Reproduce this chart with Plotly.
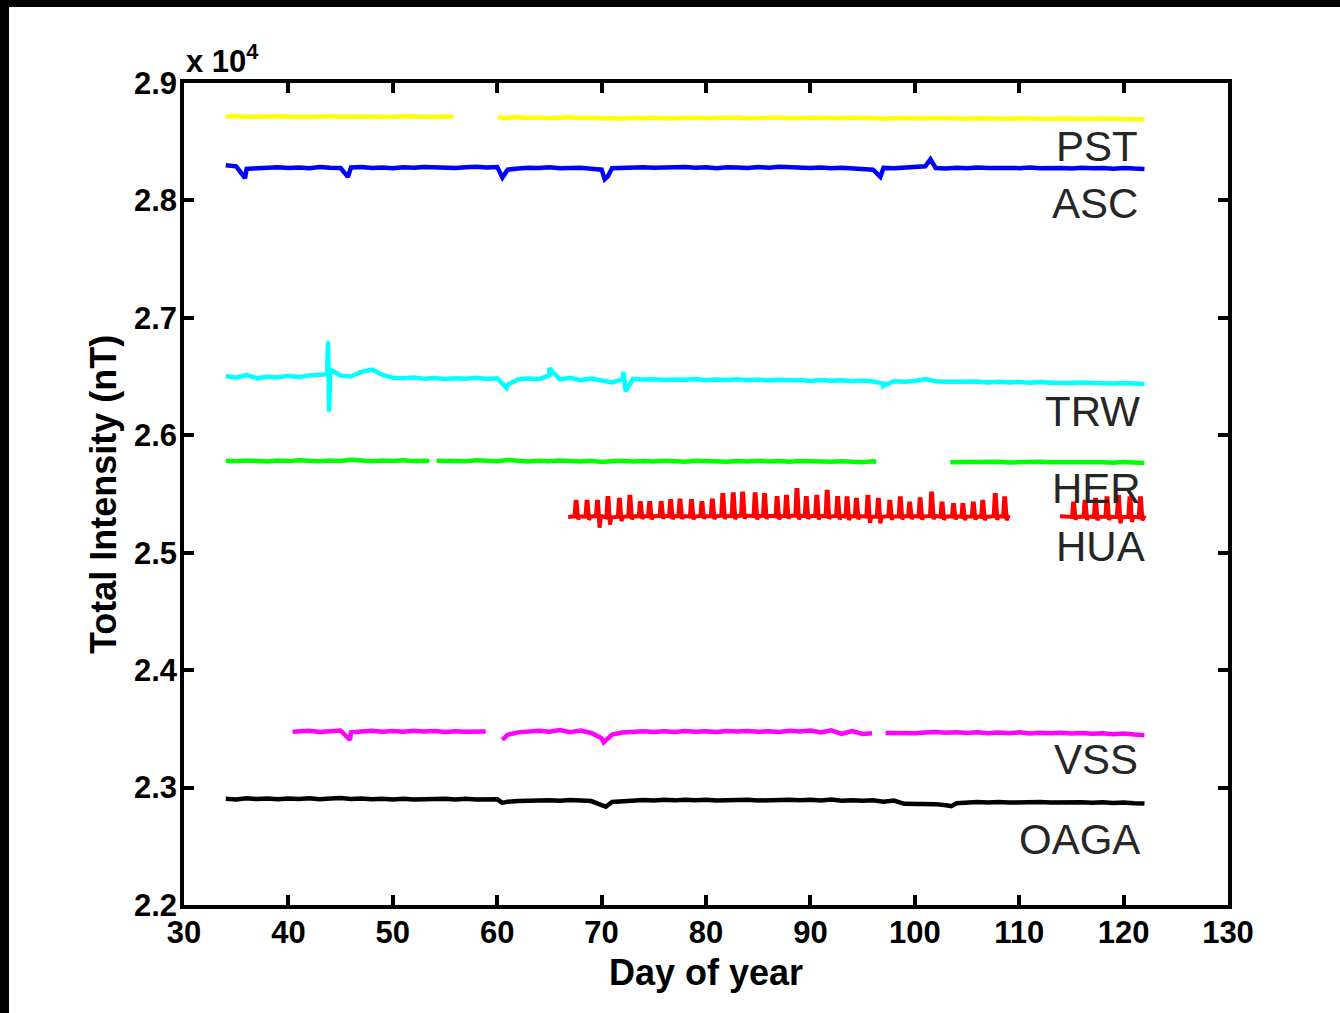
import plotly.graph_objects as go

# ---------------- data ----------------
DAYS = list(range(34, 123))  # daily samples, day 34 .. 122

X_TICKS = [30, 40, 50, 60, 70, 80, 90, 100, 110, 120, 130]
Y_TICK_VALS = [22000, 23000, 24000, 25000, 26000, 27000, 28000, 29000]
Y_TICK_TEXT = ["2.2", "2.3", "2.4", "2.5", "2.6", "2.7", "2.8", "2.9"]

N = None
PST_v = [28714, 28718, 28711, 28716, 28712, 28717, 28713, 28710, 28716, 28712,
         28718, 28711, 28715, 28712, 28717, 28713, 28711, 28716, 28712, 28715,
         28711, 28714, N, N, N, N, N,
         28703, 28709, 28702, 28706, 28700, 28705, 28708, 28701, 28704, 28697,
         28702, 28696, 28703, 28699, 28704, 28698, 28703, 28700, 28705, 28699,
         28704, 28700, 28706, 28699, 28703, 28701, 28706, 28699, 28703, 28700,
         28705, 28699, 28702, 28698, 28704, 28700, 28695, 28702, 28699, 28703,
         28698, 28701, 28697, 28702, 28696, 28700, 28697, 28701, 28695, 28699,
         28696, 28700, 28694, 28698, 28695, 28699, 28693, 28697, 28694, 28696, 28692, 28690]
PST_evt_t = [55.8, 60.05]
PST_evt_v = [28712, 28708]

ASC_v = [28300, 28290, 28268, 28274, 28279, 28283, 28277, 28281, 28275, 28284,
         28278, 28276, 28281, 28285, 28277, 28280, 28274, 28282, 28278, 28284,
         28279, 28283, 28276, 28282, 28286, 28280, 28284, 28262, 28272, 28279,
         28276, 28282, 28275, 28281, 28279, 28270, 28262, 28274, 28279, 28276,
         28283, 28278, 28281, 28276, 28284, 28279, 28282, 28275, 28283, 28280,
         28277, 28284, 28279, 28286, 28280, 28283, 28276, 28281, 28274, 28279,
         28276, 28271, 28262, 28277, 28273, 28279, 28283, 28290, 28276, 28272,
         28278, 28274, 28280, 28276, 28281, 28277, 28275, 28280, 28274, 28279,
         28276, 28272, 28278, 28273, 28277, 28270, 28276, 28271, 28268]
ASC_evt_t = [35.85, 45.7, 60.5, 70.3, 70.6, 96.7, 101.5]
ASC_evt_v = [28190, 28200, 28195, 28180, 28205, 28200, 28350]

TRW_v = [26505, 26490, 26512, 26485, 26498, 26492, 26506, 26495, 26510, 26518,
         26525, 26508, 26500, 26540, 26560, 26515, 26490, 26485, 26492, 26482,
         26488, 26479, 26486, 26482, 26490, 26480, 26486, 26430, 26475, 26484,
         26478, 26510, 26476, 26490, 26470, 26483, 26466, 26450, 26476, 26480,
         26474, 26478, 26470, 26476, 26472, 26479, 26468, 26475, 26471, 26477,
         26469, 26474, 26466, 26473, 26468, 26471, 26463, 26470, 26465, 26468,
         26461, 26466, 26458, 26440, 26460, 26456, 26462, 26478, 26460, 26455,
         26458, 26452, 26457, 26450, 26455, 26449, 26454, 26448, 26453, 26447,
         26451, 26446, 26449, 26444, 26448, 26442, 26446, 26440, 26436]
TRW_evt_t = [43.7, 43.8, 43.9, 44.0, 60.9, 65.0, 72.1, 72.3, 97.0]
TRW_evt_v = [26520, 26800, 26200, 26560, 26403, 26570, 26540, 26375, 26420]

HER_v = [25784, 25779, 25786, 25781, 25777, 25785, 25780, 25787, 25782, 25778,
         25786, 25781, 25792, 25783, 25779, 25786, 25782, 25788, 25780, 25784,
         N, 25781, 25785, 25779, 25787, 25782, 25778, 25790, 25781, 25776,
         25783, 25778, 25785, 25780, 25776, 25783, 25772, 25779, 25784, 25777,
         25782, 25776, 25784, 25779, 25775, 25783, 25778, 25781, 25774, 25782,
         25777, 25783, 25776, 25781, 25775, 25782, 25777, 25780, 25774, 25779,
         25776, 25770, 25778, N, N, N, N, N, N, N,
         25772, 25768, 25774, 25770, 25775, 25769, 25773, 25768, 25774, 25770,
         25772, 25767, 25773, 25769, 25771, 25766, 25772, 25768, 25765]
HER_evt_t = [53.5, 54.2, 96.3, 103.4]
HER_evt_v = [25781, 25783, 25772, 25771]

VSS_v = [N, N, N, N, N, N, N, 23478, 23483, 23474,
         23480, 23486, 23470, 23478, 23484, 23476, 23481, 23475, 23483, 23477,
         23481, 23474, 23480, 23476, 23482, N, N, 23450, 23470, 23478,
         23484, 23476, 23490, 23472, 23485, 23465, 23420, 23452, 23468, 23474,
         23480, 23473, 23479, 23474, 23481, 23475, 23480, 23473, 23482, 23477,
         23482, 23475, 23480, 23474, 23483, 23478, 23486, 23470, 23488, 23458,
         23482, 23456, N, N, 23463, 23470, 23462, 23468, 23474, 23466,
         23471, 23464, 23470, 23462, 23468, 23463, 23470, 23461, 23467, 23462,
         23466, 23460, 23465, 23458, 23463, 23455, 23461, 23452, 23446]
VSS_evt_t = [40.4, 45.9, 58.9, 60.5, 70.2, 95.9, 97.2]
VSS_evt_v = [23475, 23405, 23478, 23405, 23385, 23462, 23465]

OAGA_v = [22905, 22898, 22908, 22902, 22906, 22900, 22907, 22903, 22909, 22901,
          22906, 22912, 22903, 22907, 22900, 22905, 22899, 22904, 22898, 22903,
          22900, 22905, 22898, 22904, 22899, 22903, 22900, 22880, 22886, 22891,
          22887, 22893, 22888, 22894, 22889, 22885, 22850, 22878, 22886, 22891,
          22894, 22890, 22896, 22891, 22897, 22892, 22896, 22890, 22895, 22891,
          22896, 22890, 22895, 22891, 22897, 22892, 22896, 22890, 22898, 22888,
          22893, 22887, 22892, 22880, 22889, 22862, 22860, 22864, 22859, 22850,
          22866, 22872, 22877, 22873, 22878, 22872, 22876, 22871, 22877, 22873,
          22876, 22872, 22875, 22870, 22874, 22868, 22873, 22867, 22864]
OAGA_evt_t = [60.5, 70.4, 103.5]
OAGA_evt_v = [22870, 22837, 22842]

# HUA: daily spikes (peak time, peak value, base before peak, trough after peak)
HUA_pk_t = [67.55, 68.6, 69.6, 70.6, 71.7, 72.7, 73.7, 74.6, 75.7, 76.6,
            77.5, 78.6, 79.6, 80.6, 81.6, 82.6, 83.5, 84.7, 85.6, 86.8,
            87.7, 88.7, 89.6, 90.6, 91.6, 92.6, 93.5, 94.4, 95.5, 96.5,
            97.6, 98.6, 99.5, 100.5, 101.6, 102.6, 103.7, 104.6, 105.6, 106.5,
            107.7, 108.6,
            115.2, 116.3, 117.3, 118.4, 119.5, 120.6, 121.6]
HUA_pk_v = [25435, 25435, 25435, 25466, 25450, 25477, 25423, 25423, 25423, 25440,
            25445, 25440, 25423, 25445, 25492, 25498, 25505, 25498, 25492, 25466,
            25477, 25534, 25466, 25477, 25520, 25466, 25463, 25450, 25477, 25450,
            25435, 25463, 25420, 25455, 25505, 25420, 25406, 25406, 25420, 25435,
            25492, 25463,
            25420, 25435, 25450, 25463, 25477, 25463, 25463]
HUA_base_v = [25310, 25308, 25312, 25300, 25306, 25310, 25312, 25309, 25314, 25310,
              25312, 25308, 25313, 25310, 25315, 25312, 25316, 25311, 25314, 25310,
              25313, 25316, 25311, 25314, 25310, 25313, 25309, 25312, 25308, 25306,
              25311, 25309, 25312, 25308, 25313, 25307, 25310, 25306, 25309, 25305,
              25311, 25307,
              25305, 25308, 25304, 25307, 25303, 25306, 25302]
HUA_tr_v = [25285, 25280, 25213, 25240, 25270, 25285, 25288, 25285, 25290, 25286,
            25288, 25284, 25290, 25286, 25289, 25285, 25290, 25284, 25288, 25285,
            25290, 25283, 25288, 25284, 25289, 25283, 25278, 25285, 25255, 25250,
            25280, 25284, 25287, 25282, 25286, 25280, 25284, 25279, 25283, 25278,
            25280, 25276,
            25282, 25279, 25276, 25280, 25250, 25262, 25275]
HUA_seg_t = [66.8, 109.1, 113.9, 122.1]
HUA_seg_v = [25305, 25300, 25310, 25295]

LABELS = ["PST", "ASC", "TRW", "HER", "HUA", "VSS", "OAGA"]
LABEL_X = [121.6, 121.6, 121.8, 121.9, 122.2, 121.6, 121.8]
LABEL_Y = [28458, 27978, 26201, 25551, 25051, 23235, 22554]


def merge(base, et, ev):
    pts = list(zip(DAYS, base)) + list(zip(et, ev))
    pts.sort(key=lambda p: p[0])
    return [p[0] for p in pts], [p[1] for p in pts]


def hua_series():
    xs, ys = [HUA_seg_t[0]], [HUA_seg_v[0]]
    for t, pk, b, tr in zip(HUA_pk_t, HUA_pk_v, HUA_base_v, HUA_tr_v):
        if t > HUA_seg_t[1] and xs[-1] is not None and xs[-1] < HUA_seg_t[1]:
            xs += [HUA_seg_t[1], None, HUA_seg_t[2]]
            ys += [HUA_seg_v[1], None, HUA_seg_v[2]]
        # pulse shape: base -> peak plateau -> trough -> base
        xs += [t - 0.14, t - 0.04, t + 0.06, t + 0.2, t + 0.34]
        ys += [b, pk, pk, tr, b]
    xs.append(HUA_seg_t[3])
    ys.append(HUA_seg_v[3])
    return xs, ys


FONT = "Liberation Sans, Arial, sans-serif"
LW = 4.5
fig = go.Figure()

series = [
    (PST_v, PST_evt_t, PST_evt_v, "#FFFF00"),
    (ASC_v, ASC_evt_t, ASC_evt_v, "#0000FF"),
    (TRW_v, TRW_evt_t, TRW_evt_v, "#00FFFF"),
    (HER_v, HER_evt_t, HER_evt_v, "#00FF00"),
]
for base, et, ev, col in series:
    x, y = merge(base, et, ev)
    fig.add_trace(go.Scatter(x=x, y=y, mode="lines", line=dict(color=col, width=LW),
                             connectgaps=False, showlegend=False))

hx, hy = hua_series()
fig.add_trace(go.Scatter(x=hx, y=hy, mode="lines", line=dict(color="#FF0000", width=4),
                         connectgaps=False, showlegend=False))

for base, et, ev, col in [(VSS_v, VSS_evt_t, VSS_evt_v, "#FF00FF"),
                          (OAGA_v, OAGA_evt_t, OAGA_evt_v, "#000000")]:
    x, y = merge(base, et, ev)
    fig.add_trace(go.Scatter(x=x, y=y, mode="lines", line=dict(color=col, width=LW),
                             connectgaps=False, showlegend=False))

for name, lx, ly in zip(LABELS, LABEL_X, LABEL_Y):
    fig.add_annotation(x=lx, y=ly, xref="x", yref="y", text=name, showarrow=False,
                       xanchor="right", yanchor="middle",
                       font=dict(family=FONT, size=42, color="#262626"))

# multiplier, axis titles
fig.add_annotation(x=0.0, y=1.003, xref="paper", yref="paper", text="x 10<sup>4</sup>",
                   showarrow=False, xanchor="left", yanchor="bottom",
                   font=dict(family=FONT, size=31, color="black", weight="bold"))
fig.add_annotation(x=-0.0776, y=0.5, xref="paper", yref="paper", text="Total Intensity (nT)",
                   showarrow=False, textangle=-90, xanchor="center", yanchor="middle",
                   font=dict(family=FONT, size=36, color="black", weight="bold"))
fig.add_annotation(x=0.5, y=-0.082, xref="paper", yref="paper", text="Day of year",
                   showarrow=False, xanchor="center", yanchor="middle",
                   font=dict(family=FONT, size=36, color="black", weight="bold"))

# black frame strips (top & left of the picture)
fig.add_shape(type="rect", xref="paper", yref="paper", x0=-0.2, x1=-0.1676, y0=-0.2, y1=1.2,
              fillcolor="black", line=dict(width=0), layer="above")
fig.add_shape(type="rect", xref="paper", yref="paper", x0=-0.2, x1=1.2, y0=1.0925, y1=1.2,
              fillcolor="black", line=dict(width=0), layer="above")

axis_common = dict(showgrid=False, zeroline=False, showline=True, linecolor="black",
                   linewidth=3.5, mirror="allticks", ticks="inside", ticklen=10,
                   tickwidth=3.5, tickcolor="black",
                   tickfont=dict(family=FONT, size=31, color="black", weight="bold"))

fig.update_xaxes(range=[30, 130], tickvals=X_TICKS, ticktext=[str(v) for v in X_TICKS],
                 ticklabelstandoff=-3, **axis_common)
fig.update_yaxes(range=[22000, 29000], tickvals=Y_TICK_VALS, ticktext=Y_TICK_TEXT,
                 ticklabelstandoff=-3, **axis_common)

fig.update_layout(width=1340, height=1013, autosize=False,
                  margin=dict(l=184, r=112, t=83, b=108, pad=0),
                  paper_bgcolor="white", plot_bgcolor="white")

fig.write_html("out.html")
